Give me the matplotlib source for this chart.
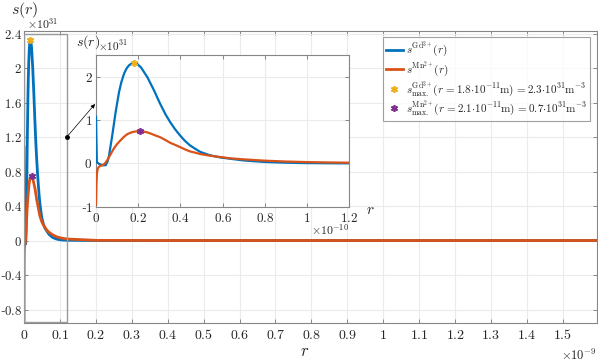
import matplotlib
matplotlib.use("Agg")
import matplotlib.pyplot as plt
from matplotlib.ticker import FuncFormatter
from matplotlib.patches import Rectangle

plt.rcParams['mathtext.fontset'] = 'cm'
plt.rcParams['font.family'] = ['DejaVu Serif']

# r in units of 1e-10 m, s in units of 1e31 m^-3
r_gd = [0, 0.004, 0.015, 0.03, 0.046, 0.055, 0.062, 0.077, 0.093, 0.109, 0.12, 0.133,
        0.145, 0.156, 0.168, 0.18, 0.195, 0.212, 0.243, 0.275, 0.303, 0.33, 0.351,
        0.375, 0.398, 0.42, 0.445, 0.47, 0.493, 0.54, 0.588, 0.635, 0.7, 0.8, 0.9,
        1.0, 1.1, 1.2, 2, 4, 8, 16]
s_gd = [1.08, 0.03, -0.01, -0.04, -0.04, 0.05, 0.19, 0.65, 1.19, 1.65, 1.88, 2.08,
        2.2, 2.27, 2.31, 2.33, 2.3, 2.23, 2.0, 1.69, 1.39, 1.13, 0.96,
        0.79, 0.65, 0.53, 0.42, 0.34, 0.27, 0.19, 0.14, 0.11, 0.07, 0.035, 0.018,
        0.009, 0.005, 0.003, 0.0, 0.0, 0.0, 0.0]

r_mn = [0, 0.002, 0.004, 0.008, 0.015, 0.03, 0.042, 0.054, 0.07, 0.085, 0.1, 0.117,
        0.133, 0.149, 0.165, 0.18, 0.195, 0.209, 0.225, 0.243, 0.263, 0.283, 0.303,
        0.33, 0.351, 0.375, 0.398, 0.42, 0.445, 0.47, 0.493, 0.54, 0.588, 0.635,
        0.7, 0.8, 0.9, 1.0, 1.1, 1.2, 2, 4, 8, 16]
s_mn = [-0.95, -0.5, -0.25, -0.12, -0.07, -0.04, 0.0, 0.08, 0.22, 0.35, 0.45, 0.54,
        0.62, 0.68, 0.715, 0.735, 0.745, 0.746, 0.738, 0.72, 0.685, 0.645, 0.61,
        0.54, 0.48, 0.43, 0.38, 0.33, 0.28, 0.25, 0.22, 0.18, 0.15, 0.12,
        0.095, 0.065, 0.045, 0.032, 0.024, 0.018, 0.002, 0.0, 0.0, 0.0]

max_gd = (0.18, 2.32)
max_mn = (0.21, 0.75)

main_xticks = [0, 0.1, 0.2, 0.3, 0.4, 0.5, 0.6, 0.7, 0.8, 0.9, 1, 1.1, 1.2, 1.3, 1.4, 1.5]  # x1e-9
main_yticks = [-0.8, -0.4, 0, 0.4, 0.8, 1.2, 1.6, 2, 2.4]  # x1e31
inset_xticks = [0, 0.2, 0.4, 0.6, 0.8, 1, 1.2]  # x1e-10
inset_yticks = [-1, 0, 1, 2]  # x1e31

labels = [r'$s^{\mathrm{Gd}^{3+}}(r)$',
          r'$s^{\mathrm{Mn}^{2+}}(r)$',
          r'$s^{\mathrm{Gd}^{3+}}_{\mathrm{max.}}(r\,{=}1.8{\cdot}10^{-11}\mathrm{m})\,{=}2.3{\cdot}10^{31}\mathrm{m}^{-3}$',
          r'$s^{\mathrm{Mn}^{2+}}_{\mathrm{max.}}(r\,{=}2.1{\cdot}10^{-11}\mathrm{m})\,{=}0.7{\cdot}10^{31}\mathrm{m}^{-3}$']

BLUE = '#0072BD'
ORANGE = '#D95319'
YELLOW = '#EDB120'
PURPLE = '#7E2F8E'
TXT = '#262626'
AX = '#868686'
GRID = '#ebebeb'

xr_gd = [v * 1e-10 for v in r_gd]
ys_gd = [v * 1e31 for v in s_gd]
xr_mn = [v * 1e-10 for v in r_mn]
ys_mn = [v * 1e31 for v in s_mn]

W, H = 598, 361
fig = plt.figure(figsize=(W / 100, H / 100), dpi=100)

def fx(px):
    return px / W

def fy(py):
    return 1 - py / H

star = (6, 2, 0)

def fmt(scale):
    def f(v, p):
        x = round(v / scale, 6)
        if x < 0:
            return '-$%g$' % (-x)
        return '$%g$' % x
    return FuncFormatter(f)

def style(ax, xt, yt, xs, ys, fs, yfs, ypad):
    ax.set_xticks([v * xs for v in xt])
    ax.set_yticks([v * ys for v in yt])
    ax.xaxis.set_major_formatter(fmt(xs))
    ax.yaxis.set_major_formatter(fmt(ys))
    ax.tick_params(direction='in', length=3, color=AX, labelcolor=TXT, labelsize=fs,
                   top=True, right=True, width=0.7)
    ax.tick_params(axis='y', pad=ypad, labelsize=yfs)
    ax.grid(True, color=GRID, linewidth=0.8)
    ax.set_axisbelow(True)
    for s in ax.spines.values():
        s.set_color(AX)
        s.set_linewidth(0.8)

# main axes
ax = fig.add_axes([fx(24), fy(323.3), fx(597 - 24), (323.3 - 31) / H])
l1, = ax.plot(xr_gd, ys_gd, color=BLUE, lw=2, label=labels[0], zorder=3)
l2, = ax.plot(xr_mn, ys_mn, color=ORANGE, lw=2, label=labels[1], zorder=3)
m1, = ax.plot([max_gd[0] * 1e-10], [max_gd[1] * 1e31], ls='none', marker=star,
              color=YELLOW, ms=5, mew=1.2, label=labels[2], zorder=4)
m2, = ax.plot([max_mn[0] * 1e-10], [max_mn[1] * 1e31], ls='none', marker=star,
              color=PURPLE, ms=5, mew=1.2, label=labels[3], zorder=4)
ax.set_xlim(0, 1.595e-9)
ax.set_ylim(-0.96e31, 2.43e31)
style(ax, main_xticks, main_yticks, 1e-9, 1e31, 10, 9.3, 1.5)
ax.add_patch(Rectangle((0, -0.95e31), 1.19e-10, 3.35e31, fill=False,
                       edgecolor='#9a9a9a', lw=1.0, zorder=5))

leg = ax.legend(handles=[l1, l2, m1, m2], loc='upper right',
                bbox_to_anchor=(fx(590), fy(37)), bbox_transform=fig.transFigure,
                fontsize=8, frameon=True, fancybox=False, handlelength=1.5,
                handletextpad=0.3, borderpad=0.25, labelspacing=0.0,
                borderaxespad=0, handleheight=0.5)
leg.get_frame().set_edgecolor('#8a8a8a')
leg.get_frame().set_linewidth(0.8)
leg.set_zorder(20)
for t in leg.get_texts():
    t.set_color(TXT)

fig.text(fx(11), fy(10), r'$s(r)$', fontsize=11.5, color=TXT, ha='left', va='center')
fig.text(fx(27), fy(24), r'$\times10^{31}$', fontsize=8.5, color=TXT, ha='left', va='center')
fig.text(fx(305), fy(352), r'$r$', fontsize=12, color=TXT, ha='center', va='center')
fig.text(fx(597), fy(355), r'$\times10^{-9}$', fontsize=9, color=TXT, ha='right', va='center')

# inset axes
ia = fig.add_axes([fx(96), fy(206.7), fx(349.3 - 96), (206.7 - 55) / H])
ia.set_facecolor('white')
ia.plot(xr_gd, ys_gd, color=BLUE, lw=1.6, zorder=3)
ia.plot(xr_mn, ys_mn, color=ORANGE, lw=1.6, zorder=3)
ia.plot([max_gd[0] * 1e-10], [max_gd[1] * 1e31], ls='none', marker=star,
        color=YELLOW, ms=5, mew=1.2, zorder=4)
ia.plot([max_mn[0] * 1e-10], [max_mn[1] * 1e31], ls='none', marker=star,
        color=PURPLE, ms=5, mew=1.2, zorder=4)
ia.set_xlim(0, 1.2e-10)
ia.set_ylim(-1e31, 2.51e31)
style(ia, inset_xticks, inset_yticks, 1e-10, 1e31, 9.5, 9.5, 2.5)
fig.text(fx(76), fy(42), r'$s(r)$', fontsize=10, color=TXT, ha='left', va='center')
fig.text(fx(98), fy(46), r'$\times10^{31}$', fontsize=8, color=TXT, ha='left', va='center')
fig.text(fx(370), fy(210), r'$r$', fontsize=11, color=TXT, ha='center', va='center')
fig.text(fx(349), fy(230), r'$\times10^{-10}$', fontsize=8.5, color=TXT, ha='right', va='center')

# arrow from the zoom box to the inset
ax.annotate('', xy=(fx(95), fy(104)), xycoords='figure fraction',
            xytext=(1.19e-10, 1.2e31), textcoords='data',
            arrowprops=dict(arrowstyle='-|>', color='black', lw=0.5,
                            mutation_scale=6, shrinkA=0, shrinkB=0),
            annotation_clip=False, zorder=10)
ax.plot([1.19e-10], [1.2e31], 'o', color='black', ms=2.5, zorder=10, clip_on=False)

fig.savefig('out.png', dpi=100)
